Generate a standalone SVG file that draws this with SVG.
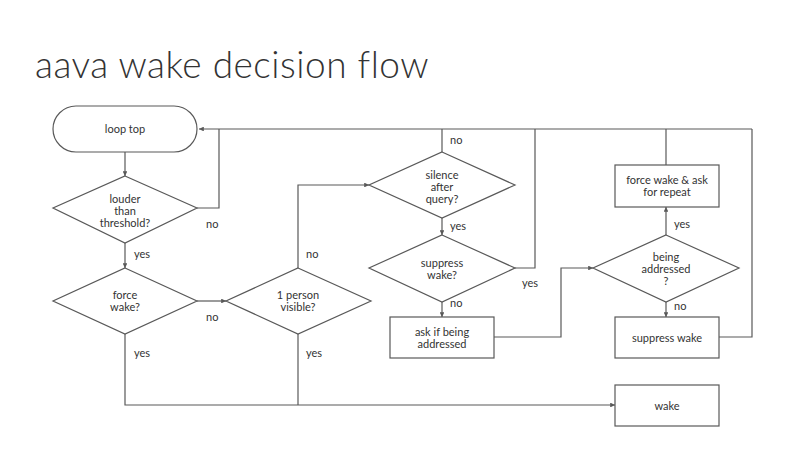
<svg xmlns="http://www.w3.org/2000/svg" width="806" height="453" viewBox="0 0 806 453">
<defs>
<marker id="a" viewBox="0 0 10 10" refX="10" refY="5" markerWidth="4" markerHeight="4" orient="auto"><path d="M0,0L10,5L0,10z" fill="#595959"/></marker>
<style>
.s{fill:#fff;stroke:#595959;stroke-width:1.2}
.c{fill:none;stroke:#595959;stroke-width:1.2}
.ca{fill:none;stroke:#595959;stroke-width:1.2;marker-end:url(#a)}
text{font-family:"Lato","Noto Sans",sans-serif;font-size:11px;fill:#333}
.m{text-anchor:middle}
</style>
</defs>
<rect width="806" height="453" fill="#fff"/>
<text x="35" y="78" style="font-size:37px;font-weight:300;letter-spacing:0.5px">aava wake decision flow</text>
<g id="connectors">
<path class="ca" d="M752,129H199"/>
<path class="ca" d="M125,152V176"/>
<path class="c" d="M197,208H219V129"/>
<path class="ca" d="M125,243V268"/>
<path class="ca" d="M197,301H226"/>
<path class="ca" d="M125,334V405H615"/>
<path class="c" d="M298,334V405"/>
<path class="ca" d="M298,268V185H369"/>
<path class="c" d="M442,152V129"/>
<path class="ca" d="M442,218V235"/>
<path class="c" d="M515,268H535V129"/>
<path class="ca" d="M442,302V317"/>
<path class="ca" d="M494,337H561V268H593"/>
<path class="ca" d="M666,235V207"/>
<path class="c" d="M666,165V129"/>
<path class="ca" d="M666,302V317"/>
<path class="c" d="M719,337H752V129"/>
<text x="206" y="228">no</text>
<text x="134" y="258">yes</text>
<text x="206" y="321">no</text>
<text x="134" y="357">yes</text>
<text x="306" y="258">no</text>
<text x="306" y="357">yes</text>
<text x="450" y="144">no</text>
<text x="450" y="230">yes</text>
<text x="522" y="287">yes</text>
<text x="450" y="307">no</text>
<text x="674" y="228">yes</text>
<text x="674" y="310">no</text>
</g>
<g id="loop"><rect class="s" x="53" y="106" width="144" height="46" rx="23"/><text class="m" x="125" y="133">loop top</text></g>
<g id="louder"><path class="s" d="M125,176L197,208L125,243L53,208z"/><text class="m" x="125" y="203">louder</text><text class="m" x="125" y="215">than</text><text class="m" x="125" y="227">threshold?</text></g>
<g id="force"><path class="s" d="M125,268L197,301L125,334L53,301z"/><text class="m" x="125" y="299">force</text><text class="m" x="125" y="311">wake?</text></g>
<g id="person"><path class="s" d="M298,268L371,301L298,334L226,301z"/><text class="m" x="298" y="299">1 person</text><text class="m" x="298" y="311">visible?</text></g>
<g id="silence"><path class="s" d="M442,152L515,185L442,218L369,185z"/><text class="m" x="442" y="179">silence</text><text class="m" x="442" y="191">after</text><text class="m" x="442" y="203">query?</text></g>
<g id="suppressq"><path class="s" d="M442,235L515,268L442,302L369,268z"/><text class="m" x="442" y="267">suppress</text><text class="m" x="442" y="279">wake?</text></g>
<g id="ask"><rect class="s" x="390" y="317" width="104" height="41"/><text class="m" x="442" y="336">ask if being</text><text class="m" x="442" y="348">addressed</text></g>
<g id="being"><path class="s" d="M666,235L739,268L666,302L593,268z"/><text class="m" x="666" y="261">being</text><text class="m" x="666" y="273">addressed</text><text class="m" x="666" y="285">?</text></g>
<g id="forceask"><rect class="s" x="615" y="165" width="104" height="42"/><text class="m" x="667" y="184">force wake &amp; ask</text><text class="m" x="667" y="196">for repeat</text></g>
<g id="suppress"><rect class="s" x="615" y="317" width="104" height="41"/><text class="m" x="667" y="342">suppress wake</text></g>
<g id="wake"><rect class="s" x="615" y="385" width="104" height="41"/><text class="m" x="667" y="410">wake</text></g>
</svg>
